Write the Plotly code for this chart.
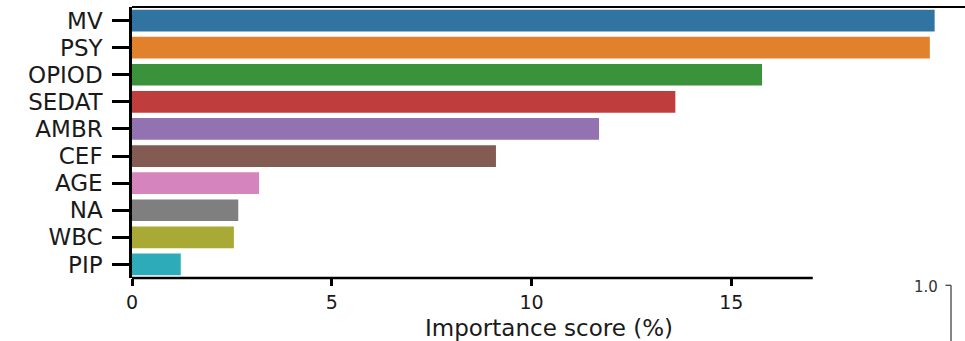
import plotly.graph_objects as go

features = ["MV", "PSY", "OPIOD", "SEDAT", "AMBR", "CEF", "AGE", "NA", "WBC", "PIP"]
importance = [20.09, 19.97, 15.77, 13.60, 11.69, 9.11, 3.18, 2.66, 2.55, 1.22]
colors = ["#3274a1", "#e1812c", "#3a923a", "#c03d3e", "#9372b2",
          "#845b53", "#d684bd", "#7f7f7f", "#a9aa35", "#2eabb8"]
x_ticks = [0, 5, 10, 15]
x_title = "Importance score (%)"
side_label = "1.0"

FONT = "DejaVu Sans"
W, H = 965, 341
L, T, B = 131.5, 7, 63.3
PW, PH = W - L, H - T - B


def px_to_paper(x=None, y=None):
    """Convert page pixel coordinates to paper fractions."""
    out = []
    if x is not None:
        out.append((x - L) / PW)
    if y is not None:
        out.append((H - B - y) / PH)
    return out[0] if len(out) == 1 else tuple(out)


fig = go.Figure(go.Bar(
    x=importance, y=features, orientation="h",
    marker=dict(color=colors, line=dict(width=0)),
    width=0.8,
))

fig.update_layout(
    width=W, height=H,
    margin=dict(l=L, r=0, t=T, b=B),
    plot_bgcolor="white", paper_bgcolor="white",
    showlegend=False,
    font=dict(family=FONT, color="#1a1a1a"),
)
fig.update_xaxes(
    range=[0, 20.85], tickmode="array", tickvals=x_ticks, showgrid=False, zeroline=False,
    showline=False, ticks="outside", ticklen=7, tickwidth=2.5, tickcolor="black",
    tickfont=dict(family=FONT, size=19, color="#1a1a1a"),
    ticklabelstandoff=0, automargin=False,
)
fig.update_yaxes(
    categoryorder="array", categoryarray=features, range=[9.5, -0.5],
    tickmode="array", tickvals=features, ticktext=features,
    showgrid=False, zeroline=False,
    showline=True, linewidth=2.5, linecolor="black",
    ticks="outside", ticklen=17, tickwidth=2.5, tickcolor="black",
    tickfont=dict(family=FONT, size=23, color="#1a1a1a"),
    ticklabelstandoff=5, automargin=False,
)
# x-axis title, centred under the full plotting width
fig.add_annotation(text=x_title, xref="paper", yref="paper",
                   x=0.5, y=px_to_paper(y=327.5), xanchor="center", yanchor="middle",
                   showarrow=False, font=dict(family=FONT, size=23, color="#1a1a1a"))
# bottom spine (shorter than the plot area) and top border
fig.add_shape(type="line", xref="x", yref="paper", x0=0, x1=17.04, y0=0, y1=0,
              line=dict(color="black", width=2.5))
fig.add_shape(type="line", xref="paper", yref="paper", x0=0, x1=1, y0=1, y1=1,
              line=dict(color="black", width=2))
# fragment of neighbouring panel at bottom right
fig.add_annotation(text=side_label, xref="paper", yref="paper",
                   x=px_to_paper(x=940), y=px_to_paper(y=286.7),
                   xanchor="right", yanchor="middle", showarrow=False,
                   font=dict(family=FONT, size=15, color="#333333"))
fig.add_shape(type="line", xref="paper", yref="paper",
              x0=px_to_paper(x=945.5), x1=px_to_paper(x=951),
              y0=px_to_paper(y=285), y1=px_to_paper(y=285),
              line=dict(color="#444444", width=1.3))
fig.add_shape(type="line", xref="paper", yref="paper",
              x0=px_to_paper(x=951), x1=px_to_paper(x=951),
              y0=px_to_paper(y=285), y1=px_to_paper(y=345),
              line=dict(color="#444444", width=1.3))

fig.write_html("out.html")
